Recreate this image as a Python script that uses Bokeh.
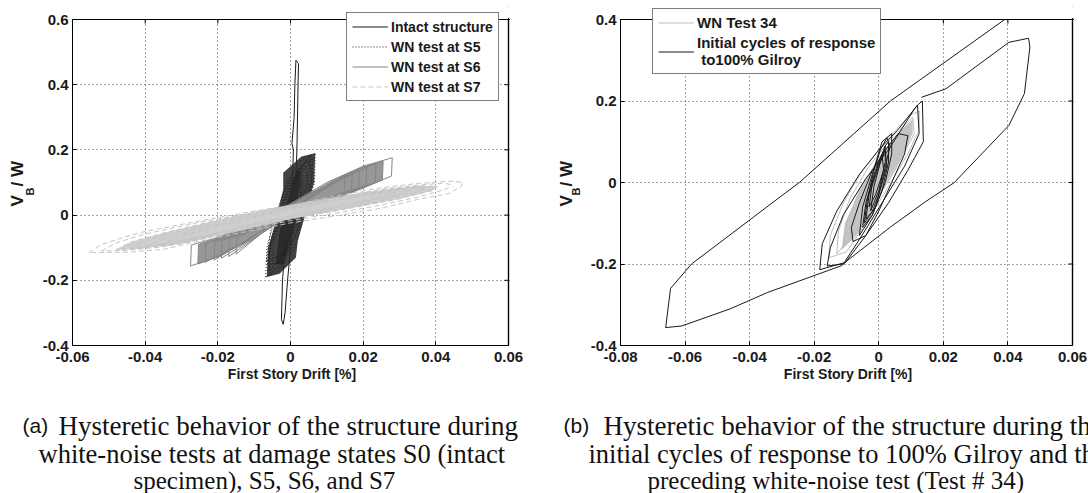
import math
from bokeh.plotting import figure
from bokeh.models import Legend, LegendItem, FixedTicker, Range1d, BoxAnnotation, Span
from bokeh.layouts import row, column
from bokeh.core.properties import value
from bokeh.embed import file_html
from bokeh.resources import INLINE

# ---------------- panel (a) data ----------------
a_x_ticks = [-0.06, -0.04, -0.02, 0.0, 0.02, 0.04, 0.06]
a_x_labels = ["-0.06", "-0.04", "-0.02", "0", "0.02", "0.04", "0.06"]
a_y_ticks = [-0.4, -0.2, 0.0, 0.2, 0.4, 0.6]
a_y_labels = ["-0.4", "-0.2", "0", "0.2", "0.4", "0.6"]

intact_x = [
    [-0.0005, 0.0005, 0.0008, 0.0004, 0.001, 0.0012, 0.0015, 0.0022, 0.002, 0.0018, 0.0015, 0.001, 0.0, -0.0008, -0.0015, -0.002, -0.0025, -0.0022, -0.0015, -0.0005],
    [-0.004, -0.003, -0.001, 0.0015, 0.0025, 0.002, 0.0, -0.002, -0.004],
    [-0.0035, -0.002, 0.0, 0.003, 0.0025, 0.0005, -0.0015, -0.0035],
]
intact_y = [
    [0.0, 0.1, 0.2, 0.22, 0.3, 0.4, 0.475, 0.465, 0.35, 0.22, 0.1, 0.0, -0.1, -0.2, -0.3, -0.335, -0.32, -0.2, -0.1, 0.0],
    [-0.15, -0.06, 0.03, 0.12, 0.14, 0.06, -0.03, -0.11, -0.15],
    [-0.12, -0.04, 0.05, 0.1, 0.03, -0.05, -0.13, -0.12],
]
intact_core_x = [-0.004, -0.003, -0.0005, 0.002, 0.003, 0.002, 0.0, -0.002]
intact_core_y = [-0.15, -0.05, 0.05, 0.14, 0.13, 0.04, -0.06, -0.15]

s5_x = [
    [-0.0068, -0.0065, -0.004, -0.001, 0.003, 0.0068, 0.0066, 0.004, 0.001, -0.003, -0.0068],
    [-0.006, -0.0055, -0.003, 0.0, 0.004, 0.006, 0.0058, 0.003, 0.0, -0.003, -0.006],
    [-0.0063, -0.005, -0.002, 0.002, 0.0055, 0.005, 0.0025, -0.0005, -0.0035, -0.0063],
    [-0.0058, -0.006, -0.0035, -0.0005, 0.002, 0.0045, 0.006, 0.0045, 0.0015, -0.002, -0.0058],
    [-0.005, -0.0045, -0.0015, 0.0015, 0.0042, 0.0048, 0.0022, -0.001, -0.005],
    [-0.0066, -0.0055, -0.0025, 0.0005, 0.003, 0.0035, 0.001, -0.002, -0.0066],
]
s5_y = [
    [-0.19, -0.1, 0.0, 0.1, 0.17, 0.19, 0.1, 0.0, -0.1, -0.17, -0.19],
    [-0.17, -0.09, 0.01, 0.1, 0.16, 0.17, 0.09, -0.01, -0.1, -0.16, -0.17],
    [-0.15, -0.06, 0.04, 0.13, 0.185, 0.12, 0.02, -0.08, -0.15, -0.15],
    [-0.185, -0.12, -0.03, 0.07, 0.14, 0.17, 0.13, 0.04, -0.06, -0.14, -0.185],
    [-0.16, -0.08, 0.02, 0.11, 0.15, 0.09, -0.01, -0.11, -0.16],
    [-0.14, -0.05, 0.05, 0.12, 0.15, 0.08, -0.02, -0.12, -0.14],
]
s5_blob_x = [-0.0065, -0.0062, -0.004, -0.002, -0.002, 0.003, 0.0068, 0.0065, 0.004, 0.002, 0.0015, -0.003, -0.0065]
s5_blob_y = [-0.18, -0.1, -0.02, 0.08, 0.13, 0.18, 0.19, 0.1, 0.0, -0.08, -0.13, -0.18, -0.19]

s6_x = [
    [-0.0275, -0.0273, -0.02, -0.01, 0.0, 0.01, 0.02, 0.028, 0.0278, 0.02, 0.01, 0.0, -0.01, -0.02, -0.0275],
    [-0.0255, -0.0253, -0.018, -0.008, 0.002, 0.012, 0.02, 0.0255, 0.0253, 0.018, 0.008, -0.002, -0.012, -0.02, -0.0255],
    [-0.0235, -0.0233, -0.016, -0.006, 0.004, 0.014, 0.0235, 0.0233, 0.016, 0.006, -0.004, -0.014, -0.0235],
    [-0.021, -0.0208, -0.012, -0.002, 0.008, 0.021, 0.0208, 0.012, 0.002, -0.008, -0.021],
    [-0.019, -0.0188, -0.01, 0.0, 0.01, 0.019, 0.0188, 0.01, 0.0, -0.01, -0.019],
    [-0.017, -0.0168, -0.008, 0.002, 0.017, 0.0168, 0.008, -0.002, -0.017],
    [-0.015, -0.0148, -0.006, 0.004, 0.015, 0.0148, 0.006, -0.004, -0.015],
]
s6_y = [
    [-0.156, -0.092, -0.068, -0.025, 0.035, 0.1, 0.15, 0.176, 0.12, 0.083, 0.04, 0.0, -0.07, -0.128, -0.156],
    [-0.15, -0.09, -0.062, -0.015, 0.045, 0.108, 0.148, 0.165, 0.108, 0.075, 0.033, -0.01, -0.08, -0.128, -0.15],
    [-0.145, -0.087, -0.058, -0.01, 0.055, 0.115, 0.158, 0.1, 0.068, 0.026, -0.02, -0.09, -0.145],
    [-0.138, -0.082, -0.045, 0.01, 0.075, 0.148, 0.092, 0.055, 0.01, -0.05, -0.138],
    [-0.132, -0.078, -0.038, 0.02, 0.085, 0.14, 0.085, 0.048, 0.0, -0.07, -0.132],
    [-0.127, -0.074, -0.03, 0.03, 0.132, 0.078, 0.04, -0.01, -0.127],
    [-0.12, -0.07, -0.022, 0.04, 0.124, 0.072, 0.033, -0.02, -0.12],
]

s7_x = [
    [-0.0555, -0.052, -0.045, -0.04, -0.025, -0.01, 0.0, 0.012, 0.025, 0.035, 0.044, 0.0475, 0.047, 0.0436, 0.035, 0.0245, 0.012, 0.0, -0.012, -0.025, -0.035, -0.045, -0.0555],
    [-0.052, -0.048, -0.04, -0.025, -0.01, 0.0, 0.012, 0.025, 0.035, 0.042, 0.044, 0.043, 0.035, 0.0245, 0.012, 0.0, -0.012, -0.025, -0.035, -0.045, -0.052],
    [-0.048, -0.044, -0.035, -0.02, -0.005, 0.01, 0.025, 0.035, 0.0405, 0.039, 0.03, 0.015, 0.0, -0.015, -0.03, -0.042, -0.048],
    [-0.044, -0.04, -0.03, -0.015, 0.0, 0.015, 0.028, 0.035, 0.037, 0.034, 0.025, 0.01, -0.005, -0.02, -0.034, -0.044],
    [-0.04, -0.035, -0.025, -0.01, 0.005, 0.02, 0.03, 0.033, 0.03, 0.02, 0.005, -0.01, -0.025, -0.035, -0.04],
    [-0.036, -0.03, -0.02, -0.005, 0.01, 0.022, 0.029, 0.027, 0.018, 0.005, -0.01, -0.022, -0.036],
]
s7_y = [
    [-0.115, -0.09, -0.065, -0.05, -0.018, 0.012, 0.03, 0.058, 0.084, 0.097, 0.104, 0.1, 0.088, 0.066, 0.048, 0.02, -0.003, -0.024, -0.05, -0.08, -0.105, -0.114, -0.115],
    [-0.11, -0.085, -0.058, -0.022, 0.008, 0.026, 0.053, 0.079, 0.092, 0.098, 0.094, 0.08, 0.055, 0.03, 0.005, -0.017, -0.043, -0.073, -0.097, -0.108, -0.11],
    [-0.106, -0.083, -0.055, -0.015, 0.02, 0.05, 0.077, 0.09, 0.088, 0.075, 0.05, 0.018, -0.012, -0.05, -0.088, -0.103, -0.106],
    [-0.102, -0.078, -0.048, -0.01, 0.024, 0.055, 0.077, 0.086, 0.082, 0.068, 0.045, 0.012, -0.022, -0.06, -0.093, -0.102],
    [-0.097, -0.072, -0.042, -0.003, 0.033, 0.062, 0.077, 0.076, 0.064, 0.04, 0.006, -0.028, -0.068, -0.09, -0.097],
    [-0.092, -0.064, -0.035, 0.005, 0.04, 0.062, 0.07, 0.06, 0.04, 0.01, -0.026, -0.06, -0.092],
]

# ---------------- panel (b) data ----------------
b_x_ticks = [-0.08, -0.06, -0.04, -0.02, 0.0, 0.02, 0.04, 0.06]
b_x_labels = ["-0.08", "-0.06", "-0.04", "-0.02", "0", "0.02", "0.04", "0.06"]
b_y_ticks = [-0.4, -0.2, 0.0, 0.2, 0.4]
b_y_labels = ["-0.4", "-0.2", "0", "0.2", "0.4"]

wn34_x = [
    [-0.0155, -0.015, -0.011, -0.005, 0.002, 0.0095, 0.0125, 0.0125, 0.009, 0.003, -0.004, -0.01, -0.0155],
    [-0.013, -0.0125, -0.009, -0.003, 0.004, 0.0105, 0.011, 0.007, 0.001, -0.006, -0.013],
    [-0.011, -0.01, -0.006, 0.0, 0.006, 0.009, 0.0092, 0.005, -0.002, -0.007, -0.011],
]
wn34_y = [
    [-0.185, -0.13, -0.05, 0.03, 0.1, 0.165, 0.175, 0.13, 0.07, -0.01, -0.1, -0.17, -0.185],
    [-0.175, -0.12, -0.04, 0.04, 0.11, 0.16, 0.12, 0.06, -0.02, -0.11, -0.175],
    [-0.16, -0.1, -0.02, 0.06, 0.12, 0.14, 0.1, 0.03, -0.06, -0.13, -0.16],
]
wn34_fill_x = [-0.0115, -0.0105, -0.006, 0.0, 0.007, 0.0105, 0.0105, 0.006, 0.0, -0.006, -0.0115]
wn34_fill_y = [-0.165, -0.1, -0.02, 0.06, 0.13, 0.155, 0.12, 0.05, -0.03, -0.12, -0.165]

gilroy_x = [
    [0.039, 0.0036, -0.0246, -0.030, -0.058, -0.0645, -0.066, -0.061, -0.046, -0.0345, -0.0115, -0.0095, 0.0035, 0.0143, 0.0234, 0.0403, 0.0451, 0.0468, 0.0464, 0.0403, 0.0208, 0.0132],
    [-0.0183, -0.0175, -0.013, -0.006, 0.0, 0.006, 0.012, 0.0135, 0.0138, 0.009, 0.003, -0.004, -0.0103, -0.0183],
    [-0.016, -0.015, -0.011, -0.004, 0.003, 0.011, 0.012, 0.0125, 0.008, 0.001, -0.006, -0.011, -0.016],
    [-0.008, -0.0085, -0.006, -0.002, 0.003, 0.006, 0.009, 0.008, 0.004, 0.0, -0.004, -0.008],
    [-0.005, -0.004, -0.001, 0.002, 0.003, 0.003, 0.001, -0.002, -0.005],
    [-0.004, -0.003, 0.0, 0.002, 0.0025, 0.0, -0.002, -0.004],
    [-0.003, -0.002, 0.001, 0.0015, -0.001, -0.003],
    [-0.006, -0.005, -0.002, 0.001, 0.004, 0.004, 0.002, -0.002, -0.006],
    [-0.0045, -0.0035, -0.0015, 0.0005, 0.0025, 0.0035, 0.0015, -0.001, -0.0045],
    [-0.0025, -0.0015, 0.0005, 0.002, 0.002, 0.0, -0.0025],
]
gilroy_y = [
    [0.40, 0.20, 0.0, -0.032, -0.20, -0.26, -0.356, -0.352, -0.31, -0.27, -0.204, -0.19, -0.11, -0.048, 0.0, 0.14, 0.218, 0.332, 0.354, 0.344, 0.23, 0.209],
    [-0.214, -0.15, -0.07, 0.02, 0.08, 0.13, 0.19, 0.20, 0.10, 0.03, -0.05, -0.13, -0.196, -0.214],
    [-0.205, -0.16, -0.08, 0.01, 0.08, 0.18, 0.19, 0.12, 0.04, -0.05, -0.14, -0.20, -0.205],
    [-0.145, -0.11, -0.05, 0.03, 0.09, 0.12, 0.115, 0.07, 0.0, -0.07, -0.13, -0.145],
    [-0.11, -0.05, 0.03, 0.09, 0.1, 0.05, -0.02, -0.08, -0.11],
    [-0.09, -0.03, 0.04, 0.08, 0.04, -0.03, -0.07, -0.09],
    [-0.06, 0.0, 0.07, 0.03, -0.03, -0.06],
    [-0.13, -0.06, 0.02, 0.1, 0.12, 0.07, 0.0, -0.08, -0.13],
    [-0.1, -0.04, 0.03, 0.08, 0.11, 0.09, 0.02, -0.06, -0.1],
    [-0.07, -0.01, 0.05, 0.09, 0.05, -0.02, -0.07],
]

caption_a = ["(a)", "Hysteretic behavior of the structure during",
             "white-noise tests at damage states S0 (intact",
             "specimen), S5, S6, and S7"]
caption_b = ["(b)", "Hysteretic behavior of the structure during the",
             "initial cycles of response to 100% Gilroy and the",
             "preceding white-noise test (Test # 34)"]
ylabel_parts = ["V", "B", "/ W"]

SANS = "Liberation Sans"
SERIF = "Liberation Serif"
INK = "#1a1a1a"
ROW_H = 405            # top row (page y 0..405)
CAP_H = 493 - ROW_H    # caption strip below
FRAME_TOP = 6          # frames start above the axes box (legend may overlap the box edge)
AXES_TOP = 19          # page y of the axes box top
FRAME_BOTTOM = 345     # page y of the x axis
BOX_H = FRAME_BOTTOM - AXES_TOP
BOTTOM_BORDER = ROW_H - FRAME_BOTTOM
EXTRA_R = 3            # px of frame kept right of the axes box


def make_fig(xmin, xmax, ylow, ytop_val, box_w, left, right):
    frame_h = FRAME_BOTTOM - FRAME_TOP
    y_px = (ytop_val - ylow) / BOX_H
    x_px = (xmax - xmin) / box_w
    y_ext = ylow + y_px * frame_h
    x_ext = xmax + x_px * EXTRA_R
    width = left + box_w + right
    p = figure(width=width, height=ROW_H, x_range=Range1d(xmin, x_ext), y_range=Range1d(ylow, y_ext),
               min_border_left=left, min_border_right=right - EXTRA_R, min_border_top=FRAME_TOP,
               min_border_bottom=BOTTOM_BORDER, toolbar_location=None, output_backend="svg",
               background_fill_color="white", border_fill_color="white")
    p.outline_line_color = None
    for ax in (p.xaxis[0], p.yaxis[0]):
        ax.axis_line_color = "black"
        ax.major_tick_in = 4
        ax.major_tick_out = 0
        ax.minor_tick_line_color = None
        ax.major_label_text_font = SANS
        ax.major_label_text_font_style = "bold"
        ax.major_label_text_font_size = "15px"
        ax.major_label_text_color = INK
    p.yaxis[0].bounds = (ylow, ytop_val)
    p.xaxis[0].bounds = (xmin, xmax)
    p.yaxis[0].major_label_standoff = 4
    p.xaxis[0].major_label_standoff = 6
    p.xaxis[0].axis_label = "First Story Drift [%]"
    p.xaxis[0].axis_label_text_font = SANS
    p.xaxis[0].axis_label_text_font_style = "bold"
    p.xaxis[0].axis_label_text_font_size = "14px"
    p.xaxis[0].axis_label_text_color = INK
    p.xaxis[0].axis_label_standoff = 1
    p.grid.grid_line_color = "#444444"
    p.grid.grid_line_dash = "1 3"
    p.grid.grid_line_width = 1
    # white strips just outside the axes box hide the grid there
    p.add_layout(BoxAnnotation(bottom=ytop_val + 1.5 * y_px, fill_color="white", fill_alpha=1,
                               line_color=None, level="underlay"))
    p.add_layout(BoxAnnotation(left=xmax + 1.5 * x_px, fill_color="white", fill_alpha=1,
                               line_color=None, level="underlay"))
    # box edges as annotations: right edge, top edge, then mask the right edge above the box
    p.add_layout(Span(location=xmax, dimension="height", line_color="black", line_width=1.2))
    p.add_layout(Span(location=ytop_val, dimension="width", line_color="black", line_width=1.2))
    p.add_layout(BoxAnnotation(bottom=ytop_val + 1.5 * y_px, fill_color="white", fill_alpha=1,
                               line_color=None))
    p.add_layout(BoxAnnotation(left=xmax + 1.5 * x_px, fill_color="white", fill_alpha=1,
                               line_color=None))
    return p


def finish_box(p, xmin, xmax, ylow, ytop, xt, yt, box_w):
    # top and right edges of the axes box, with inward ticks like the left/bottom axes
    dx = (xmax - xmin) / box_w * 4
    dy = (ytop - ylow) / BOX_H * 4
    p.segment(x0=[xmin, xmax], y0=[ytop, ylow], x1=[xmax, xmax], y1=[ytop, ytop],
              line_color="black", line_width=1.2)
    p.segment(x0=[xmax - dx] * len(yt), y0=yt, x1=[xmax] * len(yt), y1=yt,
              line_color="black", line_width=1)
    p.segment(x0=xt, y0=[ytop - dy] * len(xt), x1=xt, y1=[ytop] * len(xt),
              line_color="black", line_width=1)


def set_ticks(p, xt, xl, yt, yl):
    p.xaxis[0].ticker = FixedTicker(ticks=xt)
    p.xaxis[0].major_label_overrides = {t: l for t, l in zip(xt, xl)}
    p.yaxis[0].ticker = FixedTicker(ticks=yt)
    p.yaxis[0].major_label_overrides = {t: l for t, l in zip(yt, yl)}
    p.xgrid[0].ticker = FixedTicker(ticks=xt)
    p.ygrid[0].ticker = FixedTicker(ticks=yt)


def blank(width, height, top=0, bottom=0):
    inner = height - top - bottom
    p = figure(width=width, height=height, x_range=Range1d(0, width), y_range=Range1d(0, inner),
               min_border=0, min_border_top=top, min_border_bottom=bottom,
               x_axis_type=None, y_axis_type=None, toolbar_location=None,
               output_backend="svg", background_fill_color="white", border_fill_color="white")
    p.outline_line_color = None
    p.grid.visible = False
    return p


def ylabel_fig(width, vx, bx):
    # frame spans page y FRAME_TOP..FRAME_BOTTOM; y = FRAME_BOTTOM - page_y
    p = blank(width, ROW_H, FRAME_TOP, BOTTOM_BORDER)
    p.text(x=[vx, vx], y=[FRAME_BOTTOM - 206, FRAME_BOTTOM - 186], text=[ylabel_parts[0], ylabel_parts[2]],
           angle=math.pi / 2, text_font=value(SANS), text_font_style="bold",
           text_font_size=value("17px"), text_align="left", text_baseline="middle", text_color=INK)
    p.text(x=[bx], y=[FRAME_BOTTOM - 195], text=[ylabel_parts[1]],
           angle=math.pi / 2, text_font=value(SANS), text_font_style="bold",
           text_font_size=value("11px"), text_align="left", text_baseline="middle", text_color=INK)
    return p


def legend(items, loc, size, pad):
    return Legend(items=items, location=loc, margin=0, padding=pad, spacing=3,
                  glyph_width=36, glyph_height=17, label_height=17, label_standoff=3,
                  label_text_font=SANS, label_text_font_style="bold", label_text_font_size=size,
                  label_text_color=INK, border_line_color="black", border_line_width=1.5,
                  background_fill_color="white", background_fill_alpha=1)


# ---------------- figure (a) ----------------
pa = make_fig(-0.06, 0.06, -0.4, 0.6, 436, 34, 48)
set_ticks(pa, a_x_ticks, a_x_labels, a_y_ticks, a_y_labels)

pa.patch(intact_core_x, intact_core_y, fill_color=INK, line_color=None)
r_int = pa.multi_line(intact_x, intact_y, line_color=INK, line_width=1)
pa.patch(s5_blob_x, s5_blob_y, fill_color="#2e2e2e", fill_alpha=0.9, line_color=None)
r_s5 = pa.multi_line(s5_x, s5_y, line_color=INK, line_width=1, line_dash="1 2")
pa.patch(s6_x[1], s6_y[1], fill_color="#979797", line_color=None)
r_s6 = pa.multi_line(s6_x, s6_y, line_color="#858585", line_width=1)
pa.patch(s7_x[2], s7_y[2], fill_color="#cecece", line_color=None)
r_s7 = pa.multi_line(s7_x, s7_y, line_color="#c4c4c4", line_width=1, line_dash="5 3")
finish_box(pa, -0.06, 0.06, -0.4, 0.6, a_x_ticks, a_y_ticks, 436)

pa.add_layout(legend([LegendItem(label="Intact structure", renderers=[r_int]),
                      LegendItem(label="WN test at S5", renderers=[r_s5]),
                      LegendItem(label="WN test at S6", renderers=[r_s6]),
                      LegendItem(label="WN test at S7", renderers=[r_s7])],
                     (274, 244), "14px", 5))

# ---------------- figure (b) ----------------
pb = make_fig(-0.08, 0.06, -0.4, 0.4, 452, 34, 16)
set_ticks(pb, b_x_ticks, b_x_labels, b_y_ticks, b_y_labels)

pb.patch(wn34_fill_x, wn34_fill_y, fill_color="#c4c4c4", line_color=None)
r_wn = pb.multi_line(wn34_x, wn34_y, line_color="#bdbdbd", line_width=1)
r_gil = pb.multi_line(gilroy_x, gilroy_y, line_color=INK, line_width=1)
finish_box(pb, -0.08, 0.06, -0.4, 0.4, b_x_ticks, b_y_ticks, 452)

pb.add_layout(legend([LegendItem(label="WN Test 34", renderers=[r_wn]),
                      LegendItem(label="Initial cycles of response\n to100% Gilroy", renderers=[r_gil])],
                     (32, 271), "15px", 5))

# ---------------- y labels & captions ----------------
ya = ylabel_fig(38, 17, 29)
yb = ylabel_fig(30, 10, 19)

cap = blank(1088, CAP_H)
cap.text(x=[22, 563], y=[493 - 425, 493 - 425], text=[caption_a[0], caption_b[0]],
         text_font=value(SANS), text_font_size=value("21px"), text_align="left",
         text_baseline="alphabetic", text_color="#111111")
cap.text(x=[58, 603], y=[493 - 425, 493 - 425],
         text=[caption_a[1], caption_b[1]],
         text_font=value(SERIF), text_font_size=value("27px"), text_align="left",
         text_baseline="alphabetic", text_color="#111111")
cap.text(x=[38, 588], y=[493 - 453, 493 - 453],
         text=[caption_a[2], caption_b[2]],
         text_font=value(SERIF), text_font_size=value("26.5px"), text_align="left",
         text_baseline="alphabetic", text_color="#111111")
cap.text(x=[133, 647], y=[493 - 480, 493 - 480],
         text=[caption_a[3], caption_b[3]],
         text_font=value(SERIF), text_font_size=value("25px"), text_align="left",
         text_baseline="alphabetic", text_color="#111111")

layout = column(row(ya, pa, yb, pb), cap)
open("out.html", "w").write(file_html(layout, INLINE))
